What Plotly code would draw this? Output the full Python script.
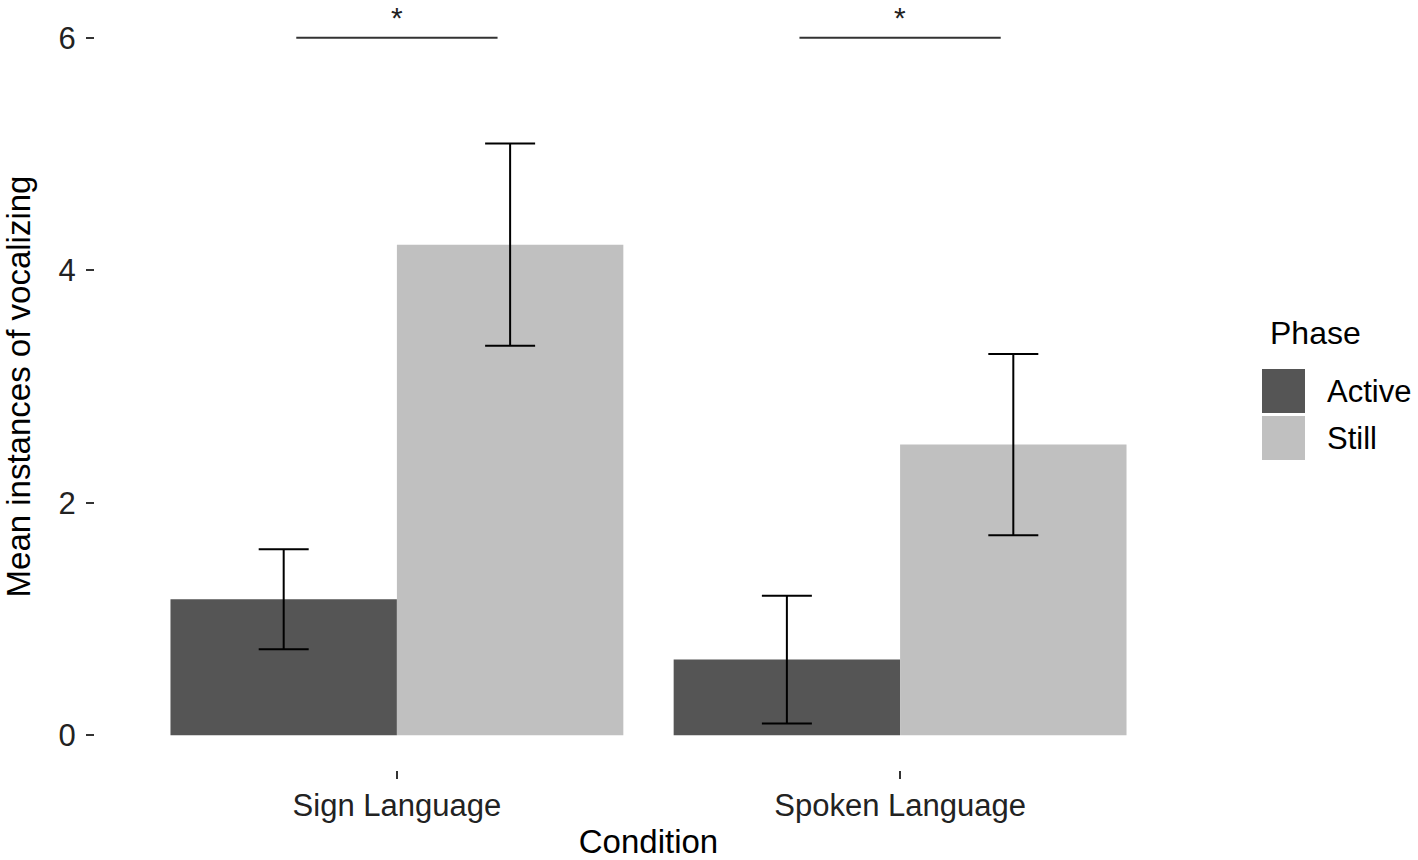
import plotly.graph_objects as go

# ---- data ----
conditions = ["Sign Language", "Spoken Language"]
phases = ["Active", "Still"]
mean_active = [1.17, 0.65]
mean_still = [4.22, 2.50]
se_active = [0.43, 0.55]
se_still = [0.87, 0.78]
sig_levels = [6, 6]
sig_labels = ["*", "*"]
y_ticks = [0, 2, 4, 6]

means = {"Active": mean_active, "Still": mean_still}
ses = {"Active": se_active, "Still": se_still}
colors = {"Active": "#555555", "Still": "#c0c0c0"}

FONT = "Liberation Sans, Arial, sans-serif"
W, H = 1418, 860
ML, MR, MT, MB = 95, 216, 3, 90
PW, PH = W - ML - MR, H - MT - MB


def px(x):
    return (x - ML) / PW


def py(y):
    return (H - MB - y) / PH


fig = go.Figure()
for ph in phases:
    fig.add_trace(go.Bar(
        x=conditions, y=means[ph], name=ph,
        marker=dict(color=colors[ph], line=dict(width=0)),
        error_y=dict(type="data", array=ses[ph], symmetric=True,
                     color="black", thickness=2, width=25),
        showlegend=False,
    ))

shapes = []
annotations = []
# significance brackets
for i, (lvl, lab) in enumerate(zip(sig_levels, sig_labels)):
    shapes.append(dict(type="line", xref="x", yref="y", x0=i - 0.2, x1=i + 0.2,
                       y0=lvl, y1=lvl, line=dict(color="#333333", width=2)))
    annotations.append(dict(xref="x", yref="y", x=conditions[i], y=lvl, text=lab,
                            showarrow=False, yanchor="bottom", yshift=2,
                            font=dict(size=30, color="#222222", family=FONT)))

# manual legend (ggplot-style)
annotations.append(dict(xref="paper", yref="paper", x=px(1268), y=py(333), text="Phase",
                        showarrow=False, xanchor="left", yanchor="middle",
                        font=dict(size=32, color="black", family=FONT)))
key_tops = [369, 416]
for ph, top in zip(phases, key_tops):
    shapes.append(dict(type="rect", xref="paper", yref="paper",
                       x0=px(1262), x1=px(1305), y0=py(top + 44), y1=py(top),
                       fillcolor=colors[ph], line=dict(width=0)))
    annotations.append(dict(xref="paper", yref="paper", x=px(1325), y=py(top + 22), text=ph,
                            showarrow=False, xanchor="left", yanchor="middle",
                            font=dict(size=31, color="black", family=FONT)))

fig.update_layout(
    width=W, height=H,
    margin=dict(l=ML, r=MR, t=MT, b=MB),
    plot_bgcolor="white", paper_bgcolor="white",
    barmode="group", bargap=0.1, bargroupgap=0,
    font=dict(family=FONT, color="#222222"),
    shapes=shapes, annotations=annotations,
    xaxis=dict(
        type="category", range=[-0.6, 1.6],
        showgrid=False, zeroline=False, showline=False,
        ticks="outside", ticklen=8, tickwidth=2, tickcolor="#333333",
        tickfont=dict(size=31, color="#222222", family=FONT),
        title=dict(text="Condition", font=dict(size=33, color="black", family=FONT), standoff=9),
    ),
    yaxis=dict(
        range=[-0.3, 6.3], tickvals=y_ticks,
        showgrid=False, zeroline=False, showline=False,
        ticks="outside", ticklen=8, tickwidth=2, tickcolor="#333333",
        ticklabelstandoff=4,
        tickfont=dict(size=31, color="#222222", family=FONT),
        title=dict(text="Mean instances of vocalizing", font=dict(size=33, color="black", family=FONT), standoff=22),
    ),
)

fig.write_html("out.html", config={"displayModeBar": False},
               post_script="document.body.style.margin='0';document.body.style.overflow='hidden';")
